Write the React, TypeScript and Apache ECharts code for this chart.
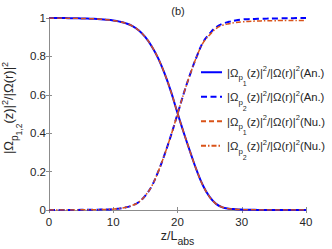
import React, { useEffect, useRef } from "react";
import * as echarts from "echarts";

const zValues = [0, 1, 2, 3, 4, 5, 6, 7, 8, 9, 10, 11, 12, 13, 14, 15, 16, 17, 18, 19, 20, 21, 22, 23, 24, 25, 26, 27, 28, 29, 30, 31, 32, 33, 34, 35, 36, 37, 38, 39, 40];
const p1An = [1.0, 1.0, 1.0, 0.999, 0.999, 0.998, 0.997, 0.996, 0.994, 0.991, 0.987, 0.981, 0.972, 0.958, 0.935, 0.9, 0.852, 0.79, 0.71, 0.615, 0.505, 0.4, 0.3, 0.205, 0.125, 0.068, 0.032, 0.014, 0.007, 0.004, 0.002, 0.001, 0.001, 0.0, 0.0, 0.0, 0.0, 0.0, 0.0, 0.0, 0.0];
const p2An = [0.0, 0.0, 0.0, 0.0, 0.0, 0.001, 0.001, 0.001, 0.002, 0.003, 0.005, 0.008, 0.014, 0.024, 0.042, 0.075, 0.125, 0.2, 0.29, 0.39, 0.5, 0.61, 0.71, 0.8, 0.875, 0.918, 0.952, 0.97, 0.98, 0.987, 0.992, 0.994, 0.995, 0.996, 0.997, 0.998, 0.998, 0.999, 0.999, 1.0, 1.0];
const p1Nu = [1.0, 1.0, 1.0, 0.999, 0.999, 0.998, 0.997, 0.996, 0.994, 0.991, 0.987, 0.981, 0.972, 0.958, 0.935, 0.9, 0.852, 0.79, 0.71, 0.615, 0.505, 0.4, 0.3, 0.205, 0.125, 0.068, 0.032, 0.014, 0.007, 0.004, 0.002, 0.001, 0.001, 0.0, 0.0, 0.0, 0.0, 0.0, 0.0, 0.0, 0.0];
const p2Nu = [0.0, 0.0, 0.0, 0.0, 0.0, 0.001, 0.001, 0.001, 0.002, 0.003, 0.005, 0.008, 0.014, 0.024, 0.042, 0.075, 0.125, 0.2, 0.29, 0.39, 0.5, 0.61, 0.71, 0.8, 0.872, 0.912, 0.945, 0.962, 0.97, 0.976, 0.98, 0.982, 0.984, 0.985, 0.986, 0.986, 0.987, 0.987, 0.987, 0.987, 0.987];

const seriesKeys = ["p1An", "p2An", "p1Nu", "p2Nu"];
const legendSubs = ["1", "2", "1", "2"];
const legendTags = ["(An.)", "(An.)", "(Nu.)", "(Nu.)"];
const titleText = "(b)";

const FONT = "'Liberation Sans', Arial, Helvetica, sans-serif";
const TXT = "#262626";
const AX = "#8c8c8c";
const BLUE = "#0000ff";
const ORANGE = "#d95319";

const pairs = (vals: number[]) => zValues.map((z, i) => [z, vals[i]]);

export default function App() {
  const ref = useRef<HTMLDivElement>(null);
  useEffect(() => {
    if (!ref.current) return;
    const chart = echarts.init(ref.current, undefined, { renderer: "svg" });
    const base = { fontFamily: FONT, color: TXT, verticalAlign: "top" };
    const legendRich = {
      n: { ...base, fontSize: 11.3, padding: [9.5, 0, 0, 0] },
      sup: { ...base, fontSize: 7.5, padding: [7, 0, 0, 0] },
      s: { ...base, fontSize: 8, padding: [16, 0, 0, 0] },
      ss: { ...base, fontSize: 7, padding: [22.5, 0, 0, 0] },
    };
    const yRich = {
      a: { ...base, fontSize: 13, padding: [1, 0, 0, 12] },
      n: { ...base, fontSize: 13, padding: [1, 0, 0, 0] },
      sup: { ...base, fontSize: 9, padding: [0, 0, 0, 0] },
      s: { ...base, fontSize: 10, padding: [9, 0, 0, 0] },
      ss: { ...base, fontSize: 8.5, padding: [14, 0, 0, 0] },
    };
    const xRich = {
      n: { ...base, fontSize: 12.5, padding: [0, 0, 0, 0] },
      s: { ...base, fontSize: 10.5, padding: [6.5, 0, 0, 0] },
    };
    const dataSets = [p1An, p2An, p1Nu, p2Nu];
    const styles = [
      { color: BLUE, width: 2, type: "solid" as any },
      { color: BLUE, width: 2, type: [6, 3.5] as any },
      { color: ORANGE, width: 1.5, type: [5, 3] as any },
      { color: ORANGE, width: 1.5, type: [5, 2, 1.5, 2] as any },
    ];
    const axisCommon = {
      type: "value" as const,
      axisLine: { show: true, lineStyle: { color: AX, width: 1 } },
      axisTick: { show: true, inside: true, length: 3, lineStyle: { color: AX } },
      splitLine: { show: false },
    };
    chart.setOption({
      animation: false,
      title: {
        text: titleText,
        left: 178,
        top: 5,
        padding: 0,
        textAlign: "center",
        textStyle: { fontSize: 11, fontWeight: "normal", fontFamily: FONT, color: TXT },
      },
      grid: { left: 49, right: 26, top: 18, bottom: 39, containLabel: false, outerBoundsMode: "none" },
      legend: {
        orient: "vertical",
        left: 200,
        top: 64.5,
        padding: 0,
        itemWidth: 21,
        itemHeight: 8,
        itemGap: 2,
        itemStyle: { opacity: 0 },
        data: seriesKeys,
        formatter: (name: string) => {
          const i = seriesKeys.indexOf(name);
          return `{n||Ω}{s|p}{ss|${legendSubs[i]}}{n|(z)|}{sup|2}{n|/|Ω(r)|}{sup|2}{n|${legendTags[i]}}`;
        },
        textStyle: { rich: legendRich, fontFamily: FONT, color: TXT },
      },
      xAxis: [
        {
          ...axisCommon,
          min: 0,
          max: 40,
          interval: 10,
          position: "bottom",
          axisLabel: { show: true, fontSize: 11.5, fontFamily: FONT, color: TXT, margin: 6 },
          name: "{n|z/L}{s|abs}",
          nameLocation: "middle",
          nameGap: 19,
          nameMoveOverlap: false,
          nameTextStyle: { rich: xRich },
        },
        {
          ...axisCommon,
          min: 0,
          max: 40,
          interval: 10,
          position: "top",
          axisLabel: { show: false },
        },
      ],
      yAxis: [
        {
          ...axisCommon,
          min: 0,
          max: 1,
          interval: 0.2,
          position: "left",
          axisLabel: { show: true, fontSize: 11.5, fontFamily: FONT, color: TXT, margin: 3 },
          name: "{a||Ω}{s|p}{ss|1,2}{n|(z)|}{sup|2}{n|/|Ω(r)|}{sup|2}",
          nameLocation: "middle",
          nameRotate: 90,
          nameGap: 25.5,
          nameMoveOverlap: false,
          nameTextStyle: { rich: yRich },
        },
        {
          ...axisCommon,
          min: 0,
          max: 1,
          interval: 0.2,
          position: "right",
          axisLabel: { show: false },
        },
      ],
      series: seriesKeys.map((k, i) => ({
        name: k,
        type: "line",
        data: pairs(dataSets[i]),
        showSymbol: false,
        symbol: "none",
        smooth: 0.4,
        lineStyle: styles[i],
        itemStyle: { color: styles[i].color },
        z: 2 + i,
      })),
    });
    return () => chart.dispose();
  }, []);
  return <div ref={ref} style={{ position: "absolute", left: 0, top: 0, width: 332, height: 249 }} />;
}
